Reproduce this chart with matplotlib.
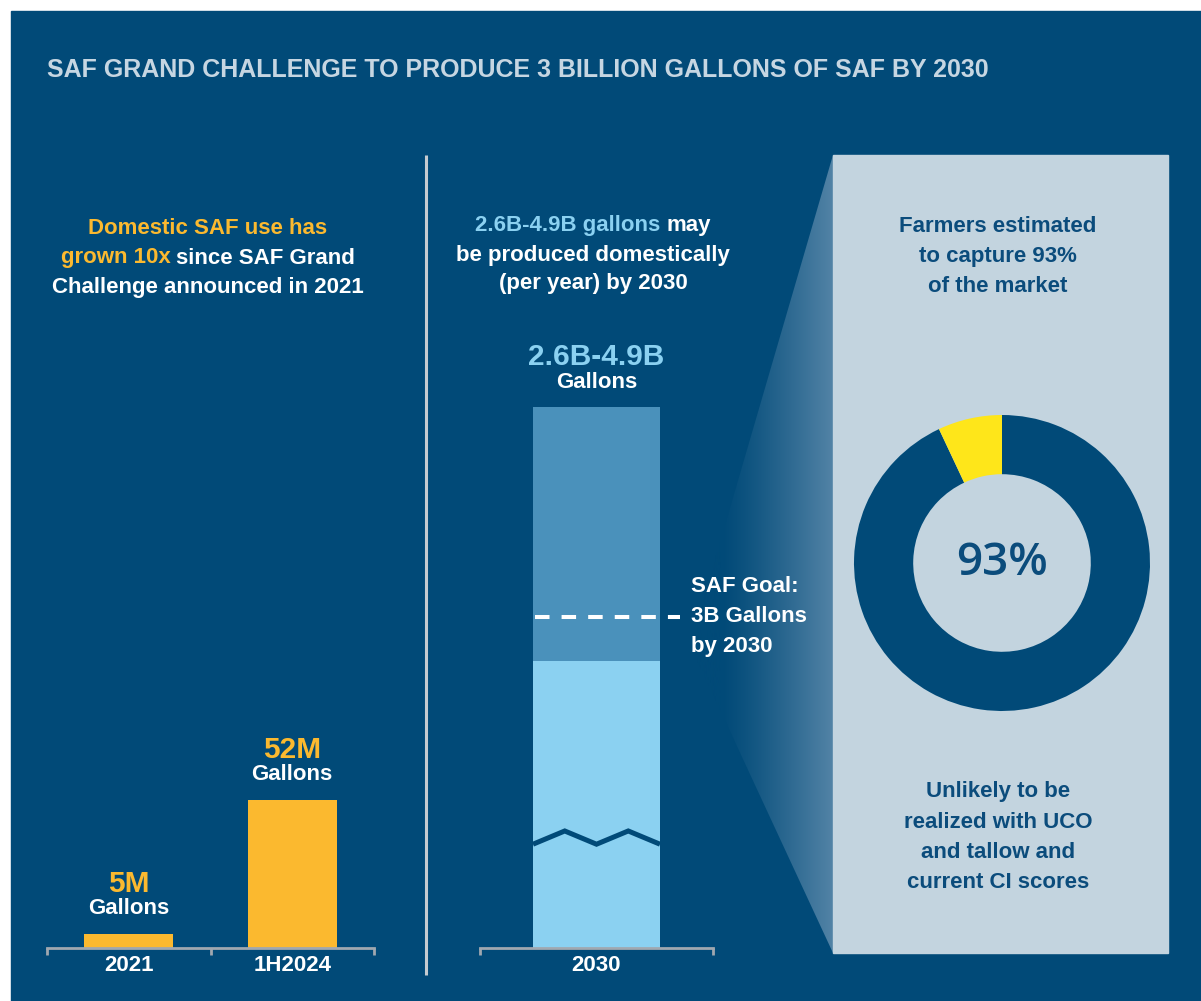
import numpy as np
import matplotlib.pyplot as plt
from matplotlib.patches import Rectangle, Polygon
plt.switch_backend('Agg')

# 数据
hist_years = ['2021', '1H2024']
hist_gallons = [5, 52]            # million gallons
hist_labels = ['5M', '52M']
future_year = ['2030']
future_low = 2.6                  # billion gallons
future_high = 4.9
goal_value = 3.0
break_value = 1.0
share_names = ['Farmers', 'Other']
share_values = [93, 7]

NAVY = '#014a78'
ORANGE = '#fbb92f'
LIGHTBLUE = '#8bd1f1'
MIDBLUE = '#4a91bb'
PANEL = '#c3d4df'
YELLOW = '#fee61a'
TITLE_C = '#c6d6e2'
AXIS_C = '#a0a8b0'
INK = '#0b4c7c'
STEEL = np.array([82, 131, 166]) / 255

SANS = ['Liberation Sans', 'DejaVu Sans']

W, H = 1201, 1001
fig = plt.figure(figsize=(W / 100, H / 100), dpi=100, facecolor='white')
bg = fig.add_axes([0, 0, 1, 1])
bg.set_xlim(0, W)
bg.set_ylim(H, 0)
bg.axis('off')
renderer = fig.canvas.get_renderer()


def box(x0, y0, x1, y1):
    return fig.add_axes([x0 / W, 1 - y1 / H, (x1 - x0) / W, (y1 - y0) / H])


def say(x, y, parts, size=16, family=SANS):
    # parts: list of (text, colour), joined with one space, centred at x
    texts = [bg.text(0, y, s, color=c, fontsize=size, family=family,
                     fontweight='bold', va='center', ha='left') for s, c in parts]
    a = bg.text(0, 0, 'xx', fontsize=size, family=family, fontweight='bold')
    b = bg.text(0, 0, 'x x', fontsize=size, family=family, fontweight='bold')
    gap = b.get_window_extent(renderer).width - a.get_window_extent(renderer).width
    a.remove()
    b.remove()
    widths = [t.get_window_extent(renderer).width for t in texts]
    start = x - (sum(widths) + gap * (len(texts) - 1)) / 2
    for t, w in zip(texts, widths):
        t.set_x(start)
        start += w + gap


# 背景
bg.add_patch(Rectangle((11, 11), W - 11, H - 11, color=NAVY, zorder=0))
bg.text(47, 70, 'SAF GRAND CHALLENGE TO PRODUCE 3 BILLION GALLONS OF SAF BY 2030',
        color=TITLE_C, fontsize=18, family=SANS, fontweight='bold', va='center')
bg.plot([426, 426], [155, 975], color='#c5cbd0', lw=2.2, solid_capstyle='butt')

# 渐变楔形 + 右侧面板
wedge = Polygon([[690, 645], [833, 155], [833, 953]], closed=True,
                facecolor='none', edgecolor='none')
bg.add_patch(wedge)
t = np.clip((np.linspace(690, 833, 300) - 722) / (833 - 722), 0, 1) ** 1.2
navy_rgb = np.array([1, 74, 120]) / 255
grad = navy_rgb[None, :] * (1 - t[:, None]) + STEEL[None, :] * t[:, None]
im = bg.imshow(grad[None, :, :], extent=(690, 833, 953, 155), aspect='auto', zorder=1)
im.set_clip_path(wedge)
bg.set_xlim(0, W)
bg.set_ylim(H, 0)
bg.add_patch(Rectangle((833, 155), 1168 - 833, 953 - 155, color=PANEL, zorder=2))

# 左侧文字
say(208, 228, [('Domestic SAF use has', ORANGE)])
say(208, 258, [('grown 10x', ORANGE), ('since SAF Grand', 'white')])
say(208, 288, [('Challenge announced in 2021', 'white')])

# 中间文字
say(593, 225, [('2.6B-4.9B gallons', LIGHTBLUE), ('may', 'white')])
say(593, 255, [('be produced domestically', 'white')])
say(593, 284, [('(per year) by 2030', 'white')])

# 右侧文字
for k, line in enumerate(['Farmers estimated', 'to capture 93%', 'of the market']):
    say(998, 227 + 29.5 * k, [(line, INK)])
for k, line in enumerate(['Unlikely to be', 'realized with UCO', 'and tallow and', 'current CI scores']):
    say(998, 792 + 30 * k, [(line, INK)])


def style_axis(ax, cats):
    ax.set_facecolor('none')
    for s in ['top', 'left', 'right']:
        ax.spines[s].set_visible(False)
    ax.spines['bottom'].set_color(AXIS_C)
    ax.spines['bottom'].set_linewidth(2)
    ax.set_yticks([])
    ax.set_xticks(range(len(cats)))
    ax.set_xticklabels(cats, color='white', fontsize=16, family=SANS, fontweight='bold')
    ax.tick_params(axis='x', which='major', length=0, pad=5)
    ax.set_xticks(np.arange(len(cats) + 1) - 0.5, minor=True)
    ax.tick_params(axis='x', which='minor', length=5, width=2, color=AXIS_C, direction='out')


def value_label(ax, x, y, big, color):
    ax.annotate(big, (x, y), xytext=(0, 36), textcoords='offset points', ha='center',
                va='center', color=color, fontsize=21.5, family=SANS, fontweight='bold',
                annotation_clip=False)
    ax.annotate('Gallons', (x, y), xytext=(0, 18), textcoords='offset points', ha='center',
                va='center', color='white', fontsize=16, family=SANS, fontweight='bold',
                annotation_clip=False)


# 左侧柱状图
axL = box(47, 800, 374, 948)
axL.bar(range(len(hist_years)), hist_gallons, width=0.545, color=ORANGE, clip_on=False)
axL.set_xlim(-0.5, len(hist_years) - 0.5)
axL.set_ylim(0, max(hist_gallons))
style_axis(axL, hist_years)
for i, (v, lab) in enumerate(zip(hist_gallons, hist_labels)):
    value_label(axL, i, v, lab, ORANGE)

# 中间柱状图
axM = box(480, 407, 713, 948)
axM.bar(0, future_low, width=0.545, color=LIGHTBLUE)
axM.bar(0, future_high - future_low, bottom=future_low, width=0.545, color=MIDBLUE, clip_on=False)
axM.set_xlim(-0.5, 0.5)
axM.set_ylim(0, future_high)
style_axis(axM, future_year)
value_label(axM, 0, future_high, '2.6B-4.9B', LIGHTBLUE)
axM.plot([-0.265, 0.36], [goal_value, goal_value], color='white', lw=2.9,
         dashes=(3.6, 3.0), dash_capstyle='butt', clip_on=False)
for k, line in enumerate(['SAF Goal:', '3B Gallons', 'by 2030']):
    axM.annotate(line, (0.36, goal_value), xytext=(8, (1 - k) * 21.6), textcoords='offset points',
                 ha='left', va='center', color='white', fontsize=16, family=SANS,
                 fontweight='bold', annotation_clip=False)
zx = np.linspace(-0.2725, 0.2725, 5)
zy = break_value - 0.06 * np.cos(np.arange(5) * np.pi)
axM.plot(zx, zy, color=NAVY, lw=3.6, solid_joinstyle='miter', solid_capstyle='butt')

# 环形图
axD = box(854, 415, 1150, 711)
axD.pie(share_values, colors=[NAVY, YELLOW], startangle=90, counterclock=False,
        radius=1, wedgeprops=dict(width=0.4, linewidth=0))
axD.set_xlim(-1, 1)
axD.set_ylim(-1, 1)
axD.set_aspect('equal')
axD.text(0, 0, '93%', ha='center', va='center', color=INK, fontsize=33,
         family=['Open Sans', 'DejaVu Sans'], fontweight='semibold')

fig.savefig('out.png', dpi=100, facecolor='white')
